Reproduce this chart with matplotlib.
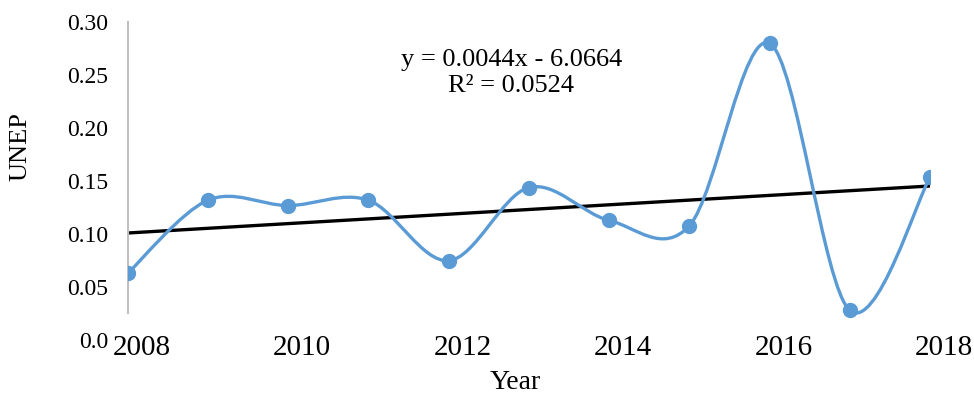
import numpy as np
import matplotlib
matplotlib.use("Agg")
import matplotlib.pyplot as plt
import matplotlib.transforms as mtransforms
from matplotlib.path import Path
from matplotlib.patches import PathPatch

# values
years = [2008, 2009, 2010, 2011, 2012, 2013, 2014, 2015, 2016, 2017, 2018]
unep = [0.063, 0.132, 0.127, 0.132, 0.075, 0.144, 0.113, 0.108, 0.280, 0.028, 0.154]
xticks = [2008, 2010, 2012, 2014, 2016, 2018]
yticks = [0.0, 0.05, 0.10, 0.15, 0.20, 0.25, 0.30]
ytick_labels = ["0.0", "0.05", "0.10", "0.15", "0.20", "0.25", "0.30"]

plt.rcParams['font.family'] = ['Liberation Serif', 'DejaVu Serif']

blue = "#5B9BD5"

fig = plt.figure(figsize=(9.74, 3.96), dpi=100)
ax = fig.add_axes([0.131, 0.141, 0.824, 0.803])

# Excel-style smoothed line: cubic bezier segments through the points
x = np.array(years, dtype=float)
y = np.array(unep)
pts = np.column_stack([x, y])
verts = [pts[0]]
codes = [Path.MOVETO]
n = len(pts)
for i in range(n - 1):
    p0 = pts[i - 1] if i > 0 else pts[i]
    p1 = pts[i]
    p2 = pts[i + 1]
    p3 = pts[i + 2] if i + 2 < n else pts[i + 1]
    c1 = p1 + (p2 - p0) / 6
    c2 = p2 - (p3 - p1) / 6
    verts += [c1, c2, p2]
    codes += [Path.CURVE4] * 3
ax.add_patch(PathPatch(Path(verts, codes), facecolor="none", edgecolor=blue,
                       lw=2.4, zorder=2))
ax.plot(years, unep, "o", color=blue, ms=10, zorder=3)

# linear trend line
slope, icpt = np.polyfit(x, y, 1)
ax.plot([2008, 2018], [slope * 2008 + icpt, slope * 2018 + icpt],
        color="black", lw=2.4, zorder=1)

ax.text(0.478, 0.84, "y = 0.0044x - 6.0664\nR² = 0.0524", transform=ax.transAxes,
        ha="center", va="center", fontsize=19, linespacing=1.2)

ax.set_xlim(2008, 2018)
ax.set_ylim(0, 0.30)
ax.set_xticks(xticks)
ax.set_yticks(yticks)
ax.set_yticklabels(ytick_labels)
ax.tick_params(axis="x", length=0, labelsize=21, pad=-4)
ax.tick_params(axis="y", length=0, labelsize=17, pad=14)
# x labels sit a little right of their ticks in the reference
shift = mtransforms.ScaledTranslation(14 / 100, 0, fig.dpi_scale_trans)
for lab in ax.get_xticklabels():
    lab.set_transform(lab.get_transform() + shift)
for s in ["top", "right", "bottom"]:
    ax.spines[s].set_visible(False)
ax.spines["left"].set_color("#BFBFBF")
ax.spines["left"].set_linewidth(1.5)
ax.spines["left"].set_bounds(0.026, 0.30)

ax.set_xlabel("Year", fontsize=20)
ax.xaxis.set_label_coords(0.483, -0.095)
ax.set_ylabel("UNEP", fontsize=19)
ax.yaxis.set_label_coords(-0.12, 0.61)

fig.savefig("out.png", dpi=100)
